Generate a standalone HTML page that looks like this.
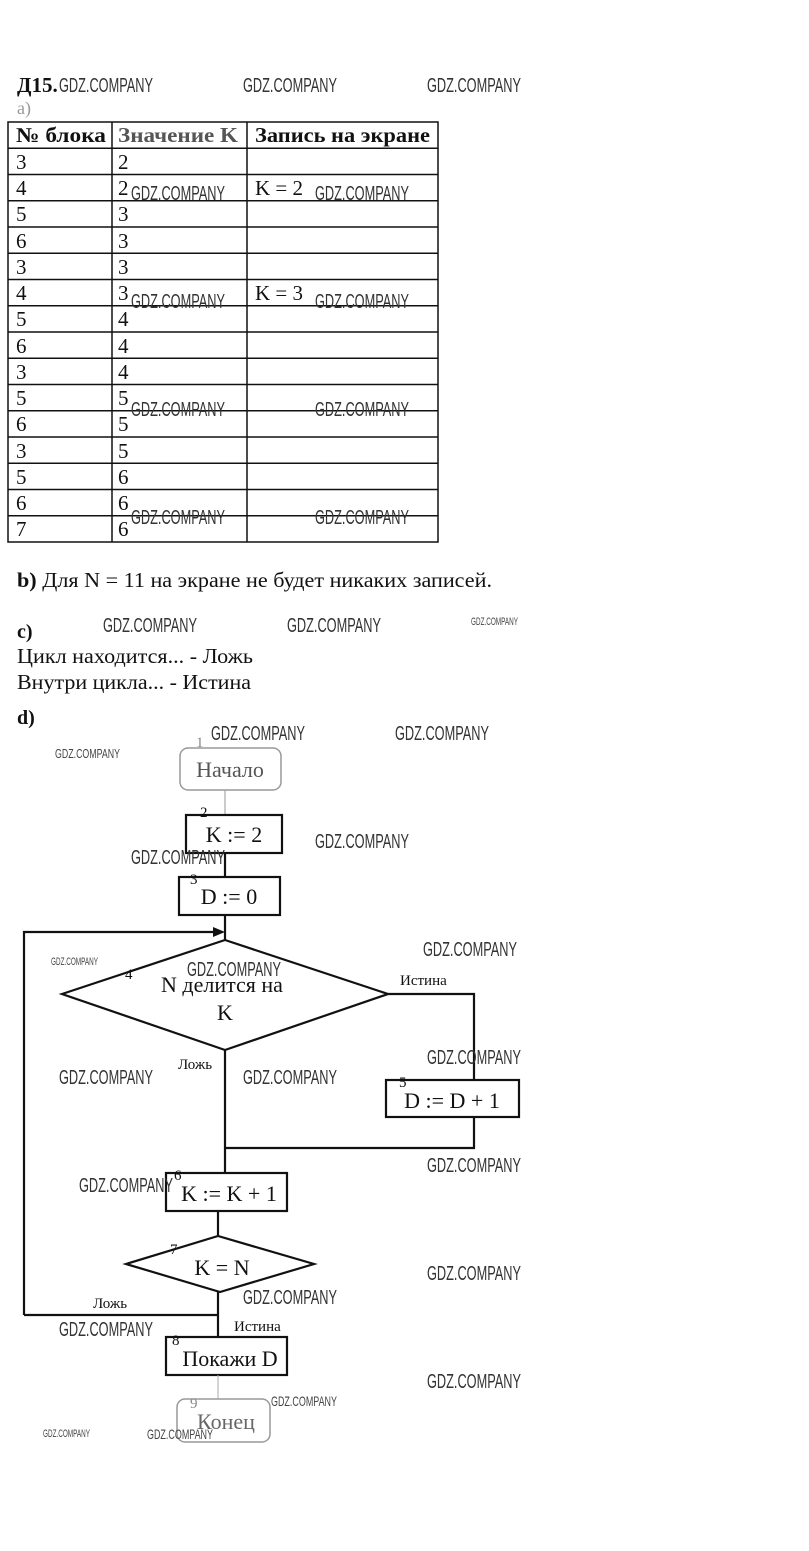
<!DOCTYPE html>
<html><head><meta charset="utf-8"><style>
html,body{margin:0;padding:0;background:#fff;}
svg{display:block}
text{font-family:"Liberation Serif","DejaVu Serif",serif;fill:#111}
.w{font-family:"Liberation Sans",sans-serif;fill:#333;font-size:20px}
.ws{font-family:"Liberation Sans",sans-serif;fill:#444;font-size:11px}
</style></head><body>
<svg width="809" height="1551" viewBox="0 0 809 1551" xmlns="http://www.w3.org/2000/svg">
<rect width="809" height="1551" fill="#fff"/>
<text x="17" y="92" font-size="21" font-weight="bold">Д15.</text>
<text x="17" y="114" font-size="18" style="fill:#999">a)</text>
<g stroke="#111" stroke-width="1.5" fill="none">
<rect x="8" y="122" width="430" height="420"/>
<line x1="112" y1="122" x2="112" y2="542"/>
<line x1="247" y1="122" x2="247" y2="542"/>
<line x1="8" y1="148.3" x2="438" y2="148.3"/><line x1="8" y1="174.5" x2="438" y2="174.5"/>
<line x1="8" y1="200.8" x2="438" y2="200.8"/><line x1="8" y1="227" x2="438" y2="227"/>
<line x1="8" y1="253.3" x2="438" y2="253.3"/><line x1="8" y1="279.5" x2="438" y2="279.5"/>
<line x1="8" y1="305.8" x2="438" y2="305.8"/><line x1="8" y1="332" x2="438" y2="332"/>
<line x1="8" y1="358.3" x2="438" y2="358.3"/><line x1="8" y1="384.5" x2="438" y2="384.5"/>
<line x1="8" y1="410.8" x2="438" y2="410.8"/><line x1="8" y1="437" x2="438" y2="437"/>
<line x1="8" y1="463.3" x2="438" y2="463.3"/><line x1="8" y1="489.5" x2="438" y2="489.5"/>
<line x1="8" y1="515.8" x2="438" y2="515.8"/>
</g>
<g font-size="21">
<text x="16" y="142" font-weight="bold" textLength="90" lengthAdjust="spacingAndGlyphs">№ блока</text>
<text x="118" y="142" font-weight="bold" style="fill:#555" textLength="120" lengthAdjust="spacingAndGlyphs">Значение K</text>
<text x="255" y="142" font-weight="bold" textLength="175" lengthAdjust="spacingAndGlyphs">Запись на экране</text>
<text x="16" y="169">3</text><text x="118" y="169">2</text>
<text x="16" y="195">4</text><text x="118" y="195">2</text><text x="255" y="195">K = 2</text>
<text x="16" y="221">5</text><text x="118" y="221">3</text>
<text x="16" y="248">6</text><text x="118" y="248">3</text>
<text x="16" y="274">3</text><text x="118" y="274">3</text>
<text x="16" y="300">4</text><text x="118" y="300">3</text><text x="255" y="300">K = 3</text>
<text x="16" y="326">5</text><text x="118" y="326">4</text>
<text x="16" y="353">6</text><text x="118" y="353">4</text>
<text x="16" y="379">3</text><text x="118" y="379">4</text>
<text x="16" y="405">5</text><text x="118" y="405">5</text>
<text x="16" y="431">6</text><text x="118" y="431">5</text>
<text x="16" y="458">3</text><text x="118" y="458">5</text>
<text x="16" y="484">5</text><text x="118" y="484">6</text>
<text x="16" y="510">6</text><text x="118" y="510">6</text>
<text x="16" y="536">7</text><text x="118" y="536">6</text>
</g>
<text x="17" y="587" font-size="21" textLength="475" lengthAdjust="spacingAndGlyphs"><tspan font-weight="bold">b)</tspan> Для N = 11 на экране не будет никаких записей.</text>
<text x="17" y="638" font-size="20" font-weight="bold">c)</text>
<text x="17" y="663" font-size="21" textLength="236" lengthAdjust="spacingAndGlyphs">Цикл находится... - Ложь</text>
<text x="17" y="689" font-size="21" textLength="234" lengthAdjust="spacingAndGlyphs">Внутри цикла... - Истина</text>
<text x="17" y="724" font-size="20" font-weight="bold">d)</text>

<g stroke="#111" stroke-width="2.2" fill="none">
<rect x="180" y="748" width="101" height="42" rx="8" stroke="#999" stroke-width="1.5"/>
<line x1="225" y1="790" x2="225" y2="815" stroke="#999" stroke-width="1"/>
<rect x="186" y="815" width="96" height="38"/>
<line x1="225" y1="853" x2="225" y2="877"/>
<rect x="179" y="877" width="101" height="38"/>
<line x1="225" y1="915" x2="225" y2="940"/>
<polyline points="24,1315 24,932 215,932"/>
<polygon points="62,994 225,940 388,994 225,1050"/>
<polyline points="388,994 474,994 474,1080"/>
<rect x="386" y="1080" width="133" height="37"/>
<polyline points="474,1117 474,1148 225,1148"/>
<line x1="225" y1="1050" x2="225" y2="1173"/>
<rect x="166" y="1173" width="121" height="38"/>
<line x1="218" y1="1211" x2="218" y2="1236"/>
<polygon points="126,1264 218,1236 314,1264 220,1292"/>
<polyline points="24,1315 218,1315"/>
<line x1="218" y1="1292" x2="218" y2="1337"/>
<rect x="166" y="1337" width="121" height="38"/>
<line x1="218" y1="1375" x2="218" y2="1399" stroke="#aaa" stroke-width="1"/>
<rect x="177" y="1399" width="93" height="43" rx="8" stroke="#999" stroke-width="1.5"/>
</g>
<polygon points="225,932 213,927 213,937" fill="#111"/>
<g font-size="22" text-anchor="middle">
<text x="230" y="777" style="fill:#555">Начало</text>
<text x="234" y="842">K := 2</text>
<text x="229" y="904">D := 0</text>
<text x="222" y="992">N делится на</text>
<text x="225" y="1020">K</text>
<text x="452" y="1108">D := D + 1</text>
<text x="229" y="1201">K := K + 1</text>
<text x="222" y="1275">K = N</text>
<text x="230" y="1366">Покажи D</text>
<text x="226" y="1429" style="fill:#666">Конец</text>
</g>
<g font-size="15">
<text x="196" y="747" style="fill:#888">1</text>
<text x="200" y="817">2</text>
<text x="190" y="884">3</text>
<text x="125" y="979">4</text>
<text x="400" y="985">Истина</text>
<text x="178" y="1069">Ложь</text>
<text x="399" y="1087">5</text>
<text x="174" y="1180">6</text>
<text x="170" y="1254">7</text>
<text x="93" y="1308">Ложь</text>
<text x="234" y="1331">Истина</text>
<text x="172" y="1345">8</text>
<text x="190" y="1408" style="fill:#888">9</text>
</g>

<g>
<text x="59" y="92" textLength="94" lengthAdjust="spacingAndGlyphs" class="w">GDZ.COMPANY</text>
<text x="243" y="92" textLength="94" lengthAdjust="spacingAndGlyphs" class="w">GDZ.COMPANY</text>
<text x="427" y="92" textLength="94" lengthAdjust="spacingAndGlyphs" class="w">GDZ.COMPANY</text>
<text x="131" y="200" textLength="94" lengthAdjust="spacingAndGlyphs" class="w">GDZ.COMPANY</text>
<text x="315" y="200" textLength="94" lengthAdjust="spacingAndGlyphs" class="w">GDZ.COMPANY</text>
<text x="131" y="308" textLength="94" lengthAdjust="spacingAndGlyphs" class="w">GDZ.COMPANY</text>
<text x="315" y="308" textLength="94" lengthAdjust="spacingAndGlyphs" class="w">GDZ.COMPANY</text>
<text x="131" y="416" textLength="94" lengthAdjust="spacingAndGlyphs" class="w">GDZ.COMPANY</text>
<text x="315" y="416" textLength="94" lengthAdjust="spacingAndGlyphs" class="w">GDZ.COMPANY</text>
<text x="131" y="524" textLength="94" lengthAdjust="spacingAndGlyphs" class="w">GDZ.COMPANY</text>
<text x="315" y="524" textLength="94" lengthAdjust="spacingAndGlyphs" class="w">GDZ.COMPANY</text>
<text x="103" y="632" textLength="94" lengthAdjust="spacingAndGlyphs" class="w">GDZ.COMPANY</text>
<text x="287" y="632" textLength="94" lengthAdjust="spacingAndGlyphs" class="w">GDZ.COMPANY</text>
<text x="211" y="740" textLength="94" lengthAdjust="spacingAndGlyphs" class="w">GDZ.COMPANY</text>
<text x="395" y="740" textLength="94" lengthAdjust="spacingAndGlyphs" class="w">GDZ.COMPANY</text>
<text x="315" y="848" textLength="94" lengthAdjust="spacingAndGlyphs" class="w">GDZ.COMPANY</text>
<text x="131" y="864" textLength="94" lengthAdjust="spacingAndGlyphs" class="w">GDZ.COMPANY</text>
<text x="423" y="956" textLength="94" lengthAdjust="spacingAndGlyphs" class="w">GDZ.COMPANY</text>
<text x="187" y="976" textLength="94" lengthAdjust="spacingAndGlyphs" class="w">GDZ.COMPANY</text>
<text x="427" y="1064" textLength="94" lengthAdjust="spacingAndGlyphs" class="w">GDZ.COMPANY</text>
<text x="59" y="1084" textLength="94" lengthAdjust="spacingAndGlyphs" class="w">GDZ.COMPANY</text>
<text x="243" y="1084" textLength="94" lengthAdjust="spacingAndGlyphs" class="w">GDZ.COMPANY</text>
<text x="427" y="1172" textLength="94" lengthAdjust="spacingAndGlyphs" class="w">GDZ.COMPANY</text>
<text x="79" y="1192" textLength="94" lengthAdjust="spacingAndGlyphs" class="w">GDZ.COMPANY</text>
<text x="427" y="1280" textLength="94" lengthAdjust="spacingAndGlyphs" class="w">GDZ.COMPANY</text>
<text x="243" y="1304" textLength="94" lengthAdjust="spacingAndGlyphs" class="w">GDZ.COMPANY</text>
<text x="59" y="1336" textLength="94" lengthAdjust="spacingAndGlyphs" class="w">GDZ.COMPANY</text>
<text x="427" y="1388" textLength="94" lengthAdjust="spacingAndGlyphs" class="w">GDZ.COMPANY</text>
</g>
<g>
<text x="471" y="625" textLength="47" lengthAdjust="spacingAndGlyphs" class="ws">GDZ.COMPANY</text>
<text x="55" y="758" textLength="65" lengthAdjust="spacingAndGlyphs" class="ws" style="font-size:13px">GDZ.COMPANY</text>
<text x="51" y="965" textLength="47" lengthAdjust="spacingAndGlyphs" class="ws">GDZ.COMPANY</text>
<text x="271" y="1406" textLength="66" lengthAdjust="spacingAndGlyphs" class="ws" style="font-size:14px">GDZ.COMPANY</text>
<text x="43" y="1437" textLength="47" lengthAdjust="spacingAndGlyphs" class="ws">GDZ.COMPANY</text>
<text x="147" y="1439" textLength="66" lengthAdjust="spacingAndGlyphs" class="ws" style="font-size:14px">GDZ.COMPANY</text>
</g>
</svg>
</body></html>
